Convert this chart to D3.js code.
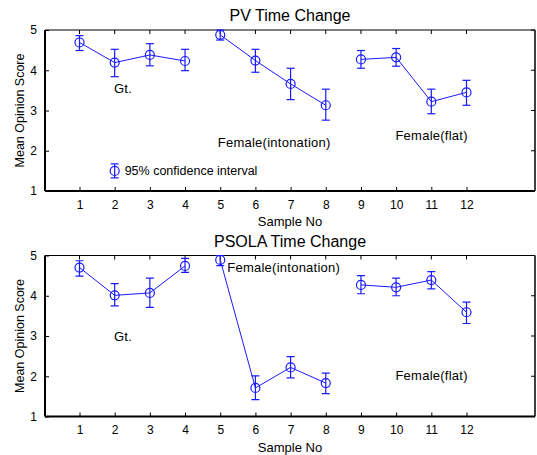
<!DOCTYPE html>
<html>
<head>
<meta charset="utf-8">
<script src="https://cdn.jsdelivr.net/npm/d3@7"></script>
<style>
  body { margin: 0; background: #fff; }
  text { font-family: "Liberation Sans", Arial, sans-serif; fill: #000; }
</style>
</head>
<body>
<div id="chart"></div>
<script>
// sample numbers on the x axis
const samples = [1, 2, 3, 4, 5, 6, 7, 8, 9, 10, 11, 12]
const yTicks = [1, 2, 3, 4, 5]
// groups that are joined by a line
const groups = [[1, 2, 3, 4], [5, 6, 7, 8], [9, 10, 11, 12]]

// PV Time Change
const pvMean = [4.69, 4.19, 4.38, 4.23, 4.88, 4.24, 3.66, 3.13, 4.27, 4.32, 3.22, 3.45]
const pvUpper = [4.86, 4.52, 4.66, 4.52, 5.0, 4.52, 4.05, 3.53, 4.49, 4.54, 3.53, 3.75]
const pvLower = [4.49, 3.84, 4.11, 3.99, 4.75, 3.95, 3.27, 2.76, 4.05, 4.10, 2.92, 3.13]

// PSOLA Time Change
const psMean = [4.70, 4.01, 4.07, 4.74, 4.89, 1.71, 2.22, 1.83, 4.27, 4.21, 4.39, 3.59]
const psUpper = [4.87, 4.30, 4.44, 4.93, 5.0, 2.01, 2.49, 2.08, 4.50, 4.44, 4.60, 3.84]
const psLower = [4.49, 3.75, 3.71, 4.58, 4.75, 1.42, 1.96, 1.57, 4.05, 4.00, 4.17, 3.31]

const blue = '#1a1aff'

const svg = d3.select('#chart').append('svg')
    .attr('width', 537)
    .attr('height', 455)

function drawPanel(top, title, mean, upper, lower, notes, legend) {
    const left = 45, right = 535, bottom = top + 161

    var x = d3.scaleLinear().domain([1, 12]).range([79.5, 466.5])
    var y = d3.scaleLinear().domain([1, 5]).range([bottom, top])

    const g = svg.append('g')

    // frame
    g.append('line').attr('x1', left).attr('x2', right).attr('y1', top).attr('y2', top)
        .attr('stroke', '#000').attr('stroke-width', 1)
    g.append('line').attr('x1', right).attr('x2', right).attr('y1', top).attr('y2', bottom)
        .attr('stroke', '#000').attr('stroke-width', 1.5)

    // inward ticks on top and right
    g.selectAll('.tt').data(samples).enter().append('line')
        .attr('x1', d => x(d)).attr('x2', d => x(d))
        .attr('y1', top).attr('y2', top + 4)
        .attr('stroke', '#000')
    g.selectAll('.tr').data(yTicks).enter().append('line')
        .attr('x1', right - 4).attr('x2', right)
        .attr('y1', d => y(d)).attr('y2', d => y(d))
        .attr('stroke', '#000')

    // bottom axis
    g.append('g')
        .attr('transform', 'translate(0,' + bottom + ')')
        .call(d3.axisBottom(x).tickValues(samples).tickSize(-4).tickPadding(9).tickFormat(d3.format('d')))
        .call(a => a.select('.domain').remove())
        .selectAll('text').style('font-size', '12px')
    g.append('line').attr('x1', left).attr('x2', right).attr('y1', bottom).attr('y2', bottom)
        .attr('stroke', '#000').attr('stroke-width', 2)

    // left axis
    g.append('g')
        .attr('transform', 'translate(' + left + ',0)')
        .call(d3.axisLeft(y).tickValues(yTicks).tickSize(-4).tickPadding(8).tickFormat(d3.format('d')))
        .call(a => a.select('.domain').remove())
        .selectAll('text').style('font-size', '12px')
    g.append('line').attr('x1', left).attr('x2', left).attr('y1', top).attr('y2', bottom)
        .attr('stroke', '#000').attr('stroke-width', 2)

    // titles
    g.append('text').attr('x', 290).attr('y', top - 9)
        .attr('text-anchor', 'middle').style('font-size', '16px').text(title)
    g.append('text').attr('x', 290).attr('y', bottom + 35)
        .attr('text-anchor', 'middle').style('font-size', '13px').text('Sample No')
    g.append('text')
        .attr('transform', 'translate(24,' + (top + bottom) / 2 + ')rotate(-90)')
        .attr('text-anchor', 'middle').style('font-size', '12.5px').text('Mean Opinion Score')

    const clip = 'clip' + top
    svg.append('clipPath').attr('id', clip).append('rect')
        .attr('x', left).attr('y', top - 1).attr('width', right - left).attr('height', bottom - top + 1)

    const plot = g.append('g').attr('clip-path', 'url(#' + clip + ')')

    // lines
    const line = d3.line().x(d => x(d)).y(d => y(mean[d - 1]))
    groups.forEach(grp => {
        plot.append('path').datum(grp).attr('d', line)
            .attr('fill', 'none').attr('stroke', blue).attr('stroke-width', 1)
    })

    // error bars
    samples.forEach((s, i) => {
        const cx = x(s)
        plot.append('line').attr('x1', cx).attr('x2', cx)
            .attr('y1', y(upper[i])).attr('y2', y(lower[i]))
            .attr('stroke', blue).attr('stroke-width', 1.2)
        ;[upper[i], lower[i]].forEach(v => {
            plot.append('line').attr('x1', cx - 4).attr('x2', cx + 4)
                .attr('y1', y(v)).attr('y2', y(v))
                .attr('stroke', blue).attr('stroke-width', 1.2)
        })
        plot.append('circle').attr('cx', cx).attr('cy', y(mean[i])).attr('r', 4.5)
            .attr('fill', 'none').attr('stroke', blue).attr('stroke-width', 1.2)
    })

    // annotations
    notes.forEach(n => {
        g.append('text').attr('x', x(n.x)).attr('y', y(n.y)).attr('dy', '0.35em')
            .style('font-size', '13px').style('letter-spacing', '0.25px').text(n.label)
    })

    if (legend) {
        const lx = x(legend.x), ly = y(legend.y)
        g.append('line').attr('x1', lx).attr('x2', lx).attr('y1', ly - 7).attr('y2', ly + 7)
            .attr('stroke', blue).attr('stroke-width', 1.2)
        g.append('line').attr('x1', lx - 4).attr('x2', lx + 4).attr('y1', ly - 7).attr('y2', ly - 7)
            .attr('stroke', blue).attr('stroke-width', 1.2)
        g.append('line').attr('x1', lx - 4).attr('x2', lx + 4).attr('y1', ly + 7).attr('y2', ly + 7)
            .attr('stroke', blue).attr('stroke-width', 1.2)
        g.append('circle').attr('cx', lx).attr('cy', ly).attr('r', 4.5)
            .attr('fill', 'none').attr('stroke', blue).attr('stroke-width', 1.2)
        g.append('text').attr('x', lx + 10).attr('y', ly).attr('dy', '0.35em')
            .style('font-size', '12.5px').text(legend.label)
    }
}

drawPanel(30, 'PV Time Change', pvMean, pvUpper, pvLower, [
    { x: 1.98, y: 3.55, label: 'Gt.' },
    { x: 4.93, y: 2.2, label: 'Female(intonation)' },
    { x: 9.98, y: 2.38, label: 'Female(flat)' }
], { x: 2, y: 1.5, label: '95% confidence interval' })

drawPanel(255.5, 'PSOLA Time Change', psMean, psUpper, psLower, [
    { x: 1.98, y: 3.0, label: 'Gt.' },
    { x: 5.2, y: 4.71, label: 'Female(intonation)' },
    { x: 9.98, y: 2.02, label: 'Female(flat)' }
], null)
</script>
</body>
</html>
